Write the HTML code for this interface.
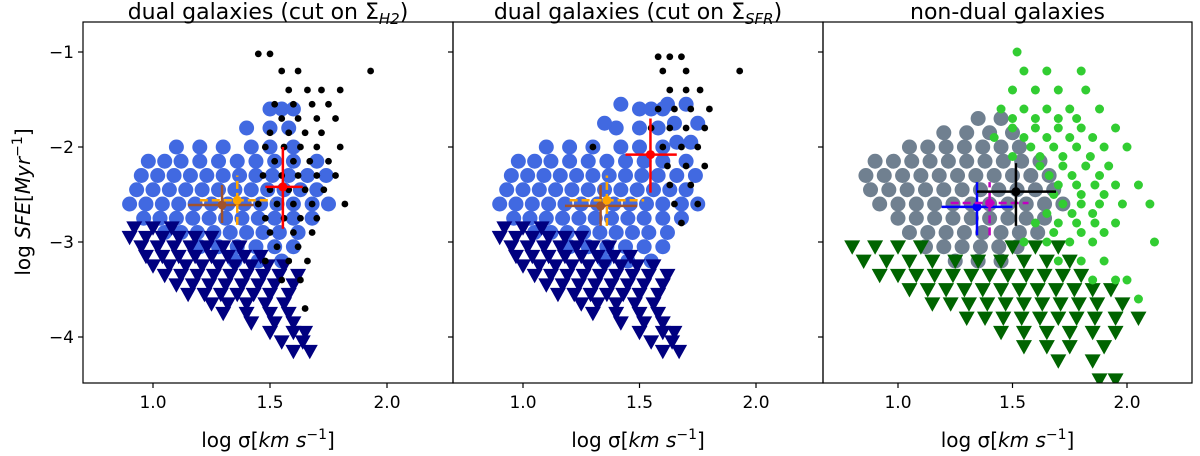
<!DOCTYPE html>
<html><head><meta charset="utf-8"><style>
html,body{margin:0;padding:0;background:#fff}
svg{display:block;font-family:"DejaVu Sans","Liberation Sans",sans-serif}
</style></head><body>
<svg id="fig" width="1200" height="456" viewBox="0 0 1200 456" xmlns="http://www.w3.org/2000/svg"></svg>
<script>
// ---- data (rows: [y, [x values]]) ----
const blueRows = [[-1.6,[1.5,1.55,1.6]],[-1.8,[1.4,1.5,1.58]],[-2.0,[1.1,1.2,1.3,1.42,1.5,1.6]],
[-2.15,[0.98,1.05,1.12,1.2,1.28,1.36,1.44,1.52,1.6,1.7]],[-2.3,[0.95,1.02,1.09,1.16,1.23,1.3,1.37,1.44,1.51,1.58,1.66,1.74]],
[-2.45,[0.93,1.0,1.07,1.14,1.21,1.28,1.35,1.42,1.49,1.56,1.63,1.7]],[-2.6,[0.9,0.97,1.04,1.11,1.18,1.25,1.32,1.39,1.46,1.53,1.6,1.68,1.75]],
[-2.75,[0.96,1.03,1.1,1.17,1.24,1.31,1.38,1.45,1.52,1.6,1.68]],[-2.9,[1.05,1.12,1.19,1.26,1.33,1.4,1.47,1.54,1.62]],
[-3.05,[1.2,1.28,1.36,1.44,1.52,1.6]],[-3.2,[1.35,1.45,1.55]]];
const blueExtra2 = [[-1.55,[1.42,1.62,1.7]],[-1.75,[1.35,1.65,1.75]],[-1.95,[1.66,1.72]]];
const navyRows = [[-2.85,[0.92,1.0,1.08]],[-2.95,[0.9,0.97,1.04,1.11,1.18,1.25]],[-3.05,[0.95,1.02,1.09,1.16,1.23,1.3,1.37]],
[-3.15,[0.97,1.04,1.11,1.18,1.25,1.32,1.39,1.46]],[-3.25,[1.0,1.07,1.14,1.21,1.28,1.35,1.42,1.49,1.56]],
[-3.35,[1.05,1.12,1.19,1.26,1.33,1.4,1.47,1.54,1.62]],[-3.45,[1.1,1.17,1.24,1.31,1.38,1.45,1.52,1.6]],
[-3.55,[1.15,1.22,1.29,1.36,1.43,1.5,1.58]],[-3.65,[1.25,1.32,1.4,1.48,1.56]],[-3.75,[1.3,1.4,1.5,1.58]],
[-3.85,[1.42,1.52,1.6]],[-3.95,[1.5,1.6,1.65]],[-4.05,[1.55,1.64]],[-4.15,[1.6,1.67]]];
const black1Rows = [[-1.02,[1.45,1.5]],[-1.2,[1.55,1.62,1.93]],[-1.4,[1.58,1.66,1.72,1.8]],[-1.55,[1.52,1.6,1.68,1.75]],
[-1.7,[1.55,1.62,1.7,1.78]],[-1.85,[1.5,1.58,1.65,1.72]],[-2.0,[1.48,1.56,1.63,1.7,1.8]],[-2.15,[1.52,1.6,1.67,1.75]],
[-2.3,[1.47,1.55,1.62,1.7,1.78]],[-2.45,[1.5,1.58,1.65,1.73]],[-2.6,[1.45,1.53,1.6,1.68,1.82]],[-2.75,[1.48,1.56,1.63,1.7]],
[-2.9,[1.5,1.6,1.68]],[-3.05,[1.53,1.62]],[-3.2,[1.48,1.58,1.66]],[-3.4,[1.55,1.63]],[-3.7,[1.65]]];
const black2Rows = [[-1.05,[1.58,1.63,1.68]],[-1.2,[1.6,1.7,1.93]],[-1.4,[1.63,1.7,1.76]],[-1.6,[1.58,1.65,1.72,1.8]],
[-1.8,[1.55,1.63,1.7,1.78]],[-2.0,[1.3,1.6,1.68,1.75]],[-2.2,[1.62,1.7,1.78]],[-2.4,[1.63,1.72]],[-2.6,[1.65,1.75]],[-2.8,[1.68]]];
const greyRows = [[-1.7,[1.35,1.45]],[-1.85,[1.2,1.3,1.4,1.5]],[-2.0,[1.05,1.13,1.21,1.29,1.37,1.45,1.53]],
[-2.15,[0.9,0.98,1.06,1.14,1.22,1.3,1.38,1.46,1.54,1.62]],[-2.3,[0.86,0.94,1.02,1.1,1.18,1.26,1.34,1.42,1.5,1.58,1.66]],
[-2.45,[0.88,0.96,1.04,1.12,1.2,1.28,1.36,1.44,1.52,1.6,1.68]],[-2.6,[0.92,1.0,1.08,1.16,1.24,1.32,1.4,1.48,1.56,1.64,1.72]],
[-2.75,[1.0,1.08,1.16,1.24,1.32,1.4,1.48,1.56,1.64]],[-2.9,[1.05,1.13,1.21,1.29,1.37,1.45,1.53,1.61]],
[-3.05,[1.12,1.2,1.28,1.36,1.44,1.52]],[-3.2,[1.25,1.35,1.45]]];
const greenRows = [[-1.0,[1.52]],[-1.2,[1.55,1.65,1.8]],[-1.4,[1.5,1.6,1.7,1.82]],[-1.6,[1.45,1.55,1.65,1.75,1.88]],
[-1.7,[1.5,1.6,1.7,1.78]],[-1.8,[1.5,1.6,1.7,1.8,1.95]],[-1.9,[1.42,1.55,1.65,1.75,1.85]],[-2.0,[1.58,1.68,1.78,1.9,2.0]],
[-2.1,[1.5,1.62,1.72,1.84]],[-2.2,[1.62,1.72,1.82,1.92]],[-2.3,[1.66,1.76,1.88]],[-2.4,[1.7,1.78,1.86,1.95,2.05]],
[-2.5,[1.68,1.8,1.9]],[-2.6,[1.72,1.8,1.88,1.98,2.1]],[-2.7,[1.65,1.76,1.85]],[-2.8,[1.6,1.7,1.78,1.86,1.95]],
[-2.9,[1.68,1.8,1.9]],[-3.0,[1.55,1.65,1.75,1.85,2.12]],[-3.2,[1.7,1.8,1.9]],
[-3.4,[1.85,1.95,2.0]],[-3.6,[2.05]]];
const dgreenRows = [[-3.05,[0.8,0.9,1.0,1.1,1.5,1.6,1.7]],[-3.2,[0.85,0.95,1.05,1.15,1.25,1.35,1.45,1.55,1.65,1.75]],
[-3.35,[0.92,1.0,1.08,1.16,1.24,1.32,1.4,1.48,1.56,1.64,1.72,1.8]],[-3.5,[1.05,1.13,1.21,1.29,1.37,1.45,1.53,1.61,1.69,1.77,1.85,1.93]],
[-3.65,[1.15,1.23,1.31,1.39,1.47,1.55,1.63,1.71,1.79,1.87,1.98]],[-3.8,[1.3,1.38,1.46,1.54,1.62,1.7,1.78,1.86,1.95,2.05]],
[-3.95,[1.45,1.55,1.65,1.75,1.85,1.95]],[-4.1,[1.55,1.65,1.75,1.9]],[-4.25,[1.7,1.85]],[-4.45,[1.88,1.95]]];
// error bars: [x, y, xlo, xhi, ylo, yhi]
const err1 = {brown:[1.295,-2.61,1.15,1.43,-2.8,-2.4], orange:[1.36,-2.56,1.2,1.51,-2.82,-2.3], red:[1.555,-2.42,1.48,1.64,-2.86,-2.0]};
const err2 = {brown:[1.333,-2.62,1.18,1.49,-2.83,-2.4], orange:[1.36,-2.56,1.2,1.52,-2.83,-2.3], red:[1.547,-2.08,1.44,1.66,-2.48,-1.7]};
const err3 = {blue:[1.345,-2.63,1.19,1.5,-2.93,-2.37], magenta:[1.4,-2.59,1.23,1.57,-2.93,-2.37], black:[1.515,-2.47,1.345,1.69,-2.83,-2.17]};
const xTicks = [1.0,1.5,2.0];
const yTicks = [-1,-2,-3,-4];

const svg = document.getElementById('fig');
const NS = 'http://www.w3.org/2000/svg';
function mk(tag, attrs, parent){const e=document.createElementNS(NS,tag);for(const k in attrs)e.setAttribute(k,attrs[k]);(parent||svg).appendChild(e);return e;}
const TOP=22,BOT=383;
const yS = v => 52 + (-1 - v)*95;
const panels = [
 {l:83,r:453,x:v=>153+(v-1)*234,title:'dual galaxies (cut on Σ',sub:'H2'},
 {l:453,r:823,x:v=>523+(v-1)*233,title:'dual galaxies (cut on Σ',sub:'SFR'},
 {l:823,r:1192,x:v=>898+(v-1)*229,title:'non-dual galaxies',sub:null}];

function scatter(g, p, rows, color, shape, r, name){
  rows.forEach(row=>{row[1].forEach(xv=>{
    const cx=p.x(xv), cy=yS(row[0]);
    let e;
    if(shape==='tri'){e=mk('polygon',{points:`${cx-r},${cy-r*0.8} ${cx+r},${cy-r*0.8} ${cx},${cy+r}`,fill:color},g);}
    else {e=mk('circle',{cx:cx,cy:cy,r:r,fill:color},g);}
    
    
  });});
}
function errbar(g,p,d,color,dash,name){
  const grp=mk('g',{},g);
  
  
  const st={stroke:color,'stroke-width':2.5};
  if(dash) st['stroke-dasharray']='8,4';
  mk('line',Object.assign({x1:p.x(d[2]),x2:p.x(d[3]),y1:yS(d[1]),y2:yS(d[1])},st),grp);
  mk('line',Object.assign({x1:p.x(d[0]),x2:p.x(d[0]),y1:yS(d[4]),y2:yS(d[5])},st),grp);
  mk('circle',{cx:p.x(d[0]),cy:yS(d[1]),r:4.5,fill:color},grp);
}
const data=[
 [[blueRows,'#4169e1','c',7.5,'blue-point'],[navyRows,'#000080','tri',8,'navy-triangle'],[black1Rows,'#000','c',3.4,'black-point']],
 [[blueRows.concat(blueExtra2),'#4169e1','c',7.5,'blue-point'],[navyRows,'#000080','tri',8,'navy-triangle'],[black2Rows,'#000','c',3.4,'black-point']],
 [[greyRows,'#708090','c',7.5,'grey-point'],[dgreenRows,'#006400','tri',8,'darkgreen-triangle'],[greenRows,'#32cd32','c',4.5,'green-point']]];
const errs=[[[err1.brown,'#a0522d',false,'errbar-brown'],[err1.orange,'#ffa500',true,'errbar-orange'],[err1.red,'#ff0000',false,'errbar-red']],
 [[err2.brown,'#a0522d',false,'errbar-brown'],[err2.orange,'#ffa500',true,'errbar-orange'],[err2.red,'#ff0000',false,'errbar-red']],
 [[err3.blue,'#0000ff',false,'errbar-blue'],[err3.magenta,'#c000c0',true,'errbar-magenta'],[err3.black,'#000',false,'errbar-black']]];

panels.forEach((p,i)=>{
  const g=mk('g',{});
  
  
  const cid='clip'+i;
  const cp=mk('clipPath',{id:cid},g); mk('rect',{x:p.l,y:TOP,width:p.r-p.l,height:BOT-TOP},cp);
  const pg=mk('g',{'clip-path':`url(#${cid})`},g);
  data[i].forEach(s=>scatter(pg,p,s[0],s[1],s[2],s[3],s[4]));
  errs[i].forEach(e=>errbar(pg,p,e[0],e[1],e[2],e[3]));
  const fr=mk('rect',{x:p.l,y:TOP,width:p.r-p.l,height:BOT-TOP,fill:'none',stroke:'#000','stroke-width':1.2},g);
   
  xTicks.forEach(t=>{
    const x=p.x(t);
    mk('line',{x1:x,x2:x,y1:BOT,y2:BOT+5,stroke:'#000','stroke-width':1.2},g);
    const tx=mk('text',{x:x,y:BOT+25,'font-size':17,'text-anchor':'middle'},g); tx.textContent=t.toFixed(1);
     
  });
  yTicks.forEach(t=>mk('line',{x1:p.l-5,x2:p.l,y1:yS(t),y2:yS(t),stroke:'#000','stroke-width':1.2},g));
  const xl=mk('text',{x:(p.l+p.r)/2,y:447,'font-size':20,'text-anchor':'middle'},g);
  xl.innerHTML='log σ[<tspan font-style="italic">km s</tspan><tspan font-size="14" dy="-8">−1</tspan><tspan dy="8">]</tspan>';
   
  const tt=mk('text',{x:(p.l+p.r)/2,y:19,'font-size':22,'text-anchor':'middle'},g);
  tt.innerHTML = p.sub ? p.title+'<tspan font-size="15" font-style="italic" dy="5">'+p.sub+'</tspan><tspan dy="-5">)</tspan>' : p.title;
   
});
yTicks.forEach(t=>{
  const tx=mk('text',{x:74,y:yS(t)+6,'font-size':17,'text-anchor':'end'}); tx.textContent='−'+Math.abs(t);
   
});
const yl=mk('text',{x:0,y:0,'font-size':20,'text-anchor':'middle',transform:'translate(30,202) rotate(-90)'});
yl.innerHTML='log <tspan font-style="italic">SFE</tspan>[<tspan font-style="italic">Myr</tspan><tspan font-size="14" dy="-8">−1</tspan><tspan dy="8">]</tspan>';
 
</script>
</body></html>
